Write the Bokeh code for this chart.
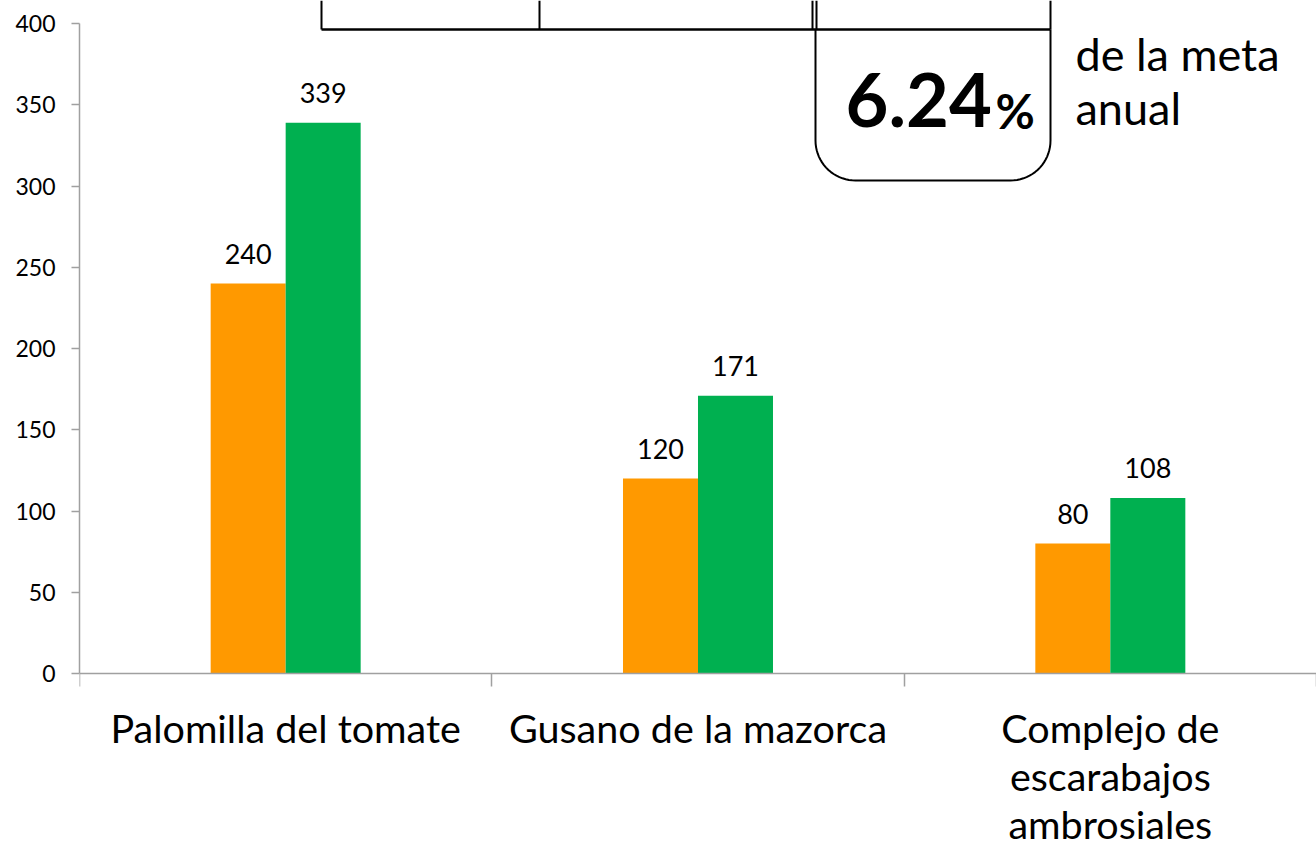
import numpy as np
from bokeh.plotting import figure
from bokeh.models import ColumnDataSource, Range1d, FixedTicker, Label
from bokeh.transform import dodge
from bokeh.core.properties import value
from bokeh.embed import file_html
from bokeh.resources import INLINE

# ---- data ----
categories = ["Palomilla del tomate", "Gusano de la mazorca", "Complejo de\nescarabajos\nambrosiales"]
serie_a = [240, 120, 80]      # orange
serie_b = [339, 171, 108]     # green
y_ticks = [0, 50, 100, 150, 200, 250, 300, 350, 400]
pct_text = "6.24"
pct_sign = "%"
meta_lines = ["de la meta", "anual"]

FONT = "Lato"
W, H = 1316, 847
LEFT = 79
ZERO_PX = 673
PX_PER_UNIT_Y = 650 / 400.0
PX_PER_CAT = 412.33

y_top = ZERO_PX / PX_PER_UNIT_Y
y_bot = -(H - ZERO_PX) / PX_PER_UNIT_Y
x_end = (W - LEFT) / PX_PER_CAT

p = figure(width=W, height=H, output_backend="svg", toolbar_location=None,
           x_range=Range1d(0, x_end), y_range=Range1d(y_bot, y_top),
           min_border_left=LEFT, min_border_right=0, min_border_top=0,
           min_border_bottom=0)
p.outline_line_color = None
p.xgrid.visible = False
p.ygrid.visible = False
p.background_fill_color = "white"
p.border_fill_color = "white"

centers = [i + 0.5 for i in range(len(categories))]
src = ColumnDataSource(dict(x=centers, a=serie_a, b=serie_b,
                            la=[str(v) for v in serie_a], lb=[str(v) for v in serie_b]))
bw = 75 / PX_PER_CAT
p.vbar(x=dodge("x", -bw / 2, range=p.x_range), top="a", width=bw, source=src,
       fill_color="#FF9900", line_color=None)
p.vbar(x=dodge("x", bw / 2, range=p.x_range), top="b", width=bw, source=src,
       fill_color="#00B050", line_color=None)

for col, lab, off in (("a", "la", -bw / 2), ("b", "lb", bw / 2)):
    p.text(x=dodge("x", off, range=p.x_range), y=col, text=lab, source=src,
           text_align="center", text_baseline="alphabetic", y_offset=-30,
           text_font=value(FONT), text_font_size="27px", text_color="black")

# y axis
ya = p.yaxis[0]
ya.ticker = FixedTicker(ticks=y_ticks, minor_ticks=[])
ya.bounds = (0, 400)
ya.axis_line_color = "#A0A0A0"
ya.axis_line_width = 1.5
ya.major_tick_line_color = "#A0A0A0"
ya.major_tick_line_width = 1.5
ya.major_tick_out = 8
ya.major_tick_in = 0
ya.minor_tick_line_color = None
ya.major_label_standoff = 16
ya.major_label_text_font = FONT
ya.major_label_text_font_size = "23px"
ya.major_label_text_color = "black"

# x axis at y = 0 (category names drawn as labels below, tick labels hidden)
xa = p.xaxis[0]
xa.fixed_location = 0
xa.ticker = FixedTicker(ticks=centers, minor_ticks=list(range(len(categories) + 1)))
xa.major_label_overrides = {c: "" for c in centers}
xa.major_label_text_font_size = "1px"
xa.axis_line_color = "#A0A0A0"
xa.axis_line_width = 1.5
xa.major_tick_line_color = None
xa.major_tick_out = 0
xa.major_tick_in = 0
xa.minor_tick_line_color = "#A0A0A0"
xa.minor_tick_line_width = 1.5
xa.minor_tick_out = 13
xa.minor_tick_in = 0


def dx(px):
    return (px - LEFT) / PX_PER_CAT


def dy(py):
    return (ZERO_PX - py) / PX_PER_UNIT_Y


# category names (anchor = visual centre of each line)
for c, name in zip(centers, categories):
    for k, line in enumerate(name.split("\n")):
        p.add_layout(Label(x=c, y=dy(727 + 48 * k), text=line, text_font=FONT,
                           text_font_size="39.5px", text_color="black",
                           text_align="center", text_baseline="alphabetic"))

# ---- decoration ----
p.line([dx(321), dx(1050)], [dy(29), dy(29)], line_color="black", line_width=2.5)
for vx in (321, 539, 812, 816, 1050):
    p.line([dx(vx), dx(vx)], [dy(29), y_top], line_color="black", line_width=2)

r = 40
L, R, T, B = 815, 1050, 29, 180
pts = [(L, T), (L, B - r)]
for a in np.linspace(np.pi, np.pi / 2, 20):
    pts.append((L + r + r * np.cos(a), B - r + r * np.sin(a)))
for a in np.linspace(np.pi / 2, 0, 20):
    pts.append((R - r + r * np.cos(a), B - r + r * np.sin(a)))
pts.append((R, T))
p.line([dx(q[0]) for q in pts], [dy(q[1]) for q in pts], line_color="black", line_width=2)

p.add_layout(Label(x=dx(845), y=dy(99.5), text=pct_text, text_font=FONT,
                   text_font_style="bold", text_font_size="74px", text_color="black",
                   text_baseline="alphabetic", text_align="left"))
p.add_layout(Label(x=dx(995), y=dy(110), text=pct_sign, text_font=FONT,
                   text_font_style="bold", text_font_size="48px", text_color="black",
                   text_baseline="alphabetic", text_align="left"))
p.add_layout(Label(x=dx(1075), y=dy(53.5), text=meta_lines[0], text_font=FONT,
                   text_font_size="45px", text_color="black",
                   text_baseline="alphabetic", text_align="left"))
p.add_layout(Label(x=dx(1075), y=dy(107), text=meta_lines[1], text_font=FONT,
                   text_font_size="45px", text_color="black",
                   text_baseline="alphabetic", text_align="left"))

open("out.html", "w").write(file_html(p, INLINE))
